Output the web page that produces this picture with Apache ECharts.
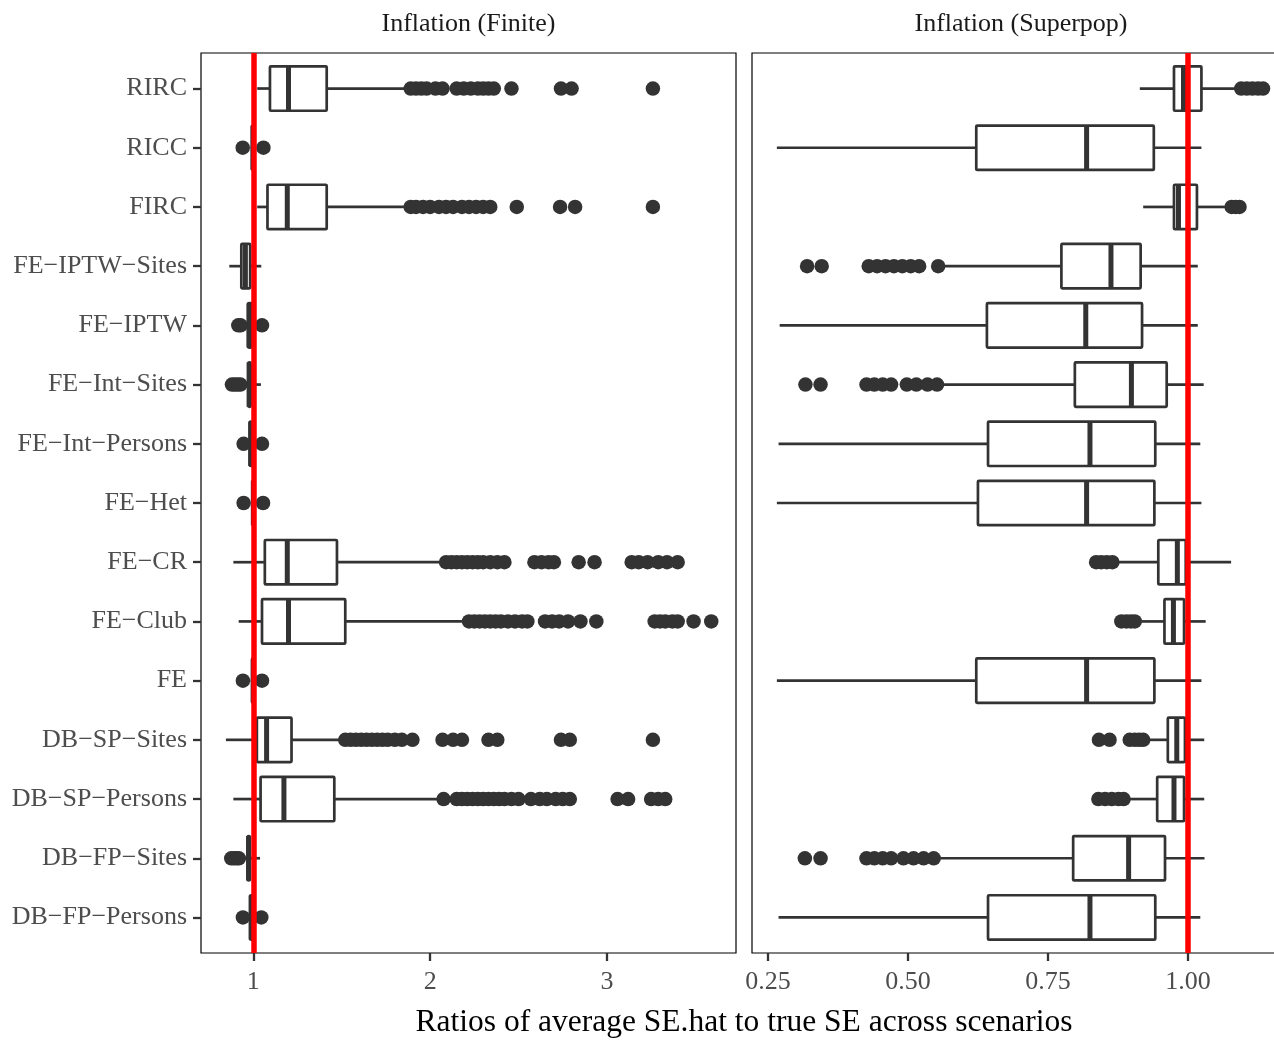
<!DOCTYPE html>
<html><head><meta charset="utf-8">
<script src="https://cdn.jsdelivr.net/npm/echarts@6.0.0/dist/echarts.min.js"></script>
<style>html,body{margin:0;padding:0;background:#fff}#c{width:1274px;height:1040px}</style>
</head><body><div id="c"></div>
<script>
// Categories, bottom to top
const categories = ['DB−FP−Persons','DB−FP−Sites','DB−SP−Persons','DB−SP−Sites','FE','FE−Club','FE−CR','FE−Het','FE−Int−Persons','FE−Int−Sites','FE−IPTW','FE−IPTW−Sites','FIRC','RICC','RIRC'];
const panelTitles = ['Inflation (Finite)', 'Inflation (Superpop)'];
const xAxisTitle = 'Ratios of average SE.hat to true SE across scenarios';
const finiteTicks = [1, 2, 3];
const superTicks = [0.25, 0.50, 0.75, 1.00];
const referenceValue = 1;

// Finite panel box statistics
const finiteLow  = [0.975, 0.935, 0.887, 0.845, 0.985, 0.917, 0.887, 0.990, 0.975, 0.962, 0.965, 0.864, 1.022, 0.985, 1.022];
const finiteQ1   = [0.982, 0.968, 1.041, 1.020, 0.993, 1.049, 1.065, 0.995, 0.980, 0.972, 0.970, 0.932, 1.080, 0.993, 1.094];
const finiteMed  = [0.988, 0.973, 1.173, 1.075, 1.000, 1.199, 1.192, 1.000, 0.985, 0.976, 0.976, 0.955, 1.192, 0.998, 1.199];
const finiteQ3   = [0.995, 0.980, 1.458, 1.216, 1.006, 1.520, 1.473, 1.005, 0.992, 0.985, 0.990, 0.982, 1.415, 1.004, 1.415];
const finiteHigh = [1.020, 1.038, 2.047, 1.486, 1.020, 2.180, 2.056, 1.010, 1.010, 1.043, 1.000, 1.045, 1.860, 1.015, 1.860];
const finiteOutliers = [
  [0.941, 1.045],
  [0.875, 0.890, 0.905, 0.918],
  [2.076, 2.15, 2.18, 2.21, 2.24, 2.27, 2.30, 2.33, 2.36, 2.39, 2.42, 2.46, 2.50, 2.57, 2.62, 2.66, 2.71, 2.75, 2.79, 3.06, 3.12, 3.25, 3.29, 3.33],
  [1.52, 1.55, 1.58, 1.61, 1.64, 1.67, 1.70, 1.73, 1.76, 1.80, 1.84, 1.90, 2.07, 2.13, 2.18, 2.33, 2.38, 2.74, 2.79, 3.26],
  [0.941, 1.049],
  [2.22, 2.25, 2.28, 2.31, 2.34, 2.37, 2.40, 2.44, 2.48, 2.52, 2.55, 2.65, 2.69, 2.73, 2.78, 2.85, 2.94, 3.27, 3.30, 3.33, 3.37, 3.40, 3.49, 3.59],
  [2.09, 2.12, 2.15, 2.18, 2.21, 2.24, 2.27, 2.30, 2.34, 2.38, 2.42, 2.59, 2.63, 2.67, 2.70, 2.84, 2.93, 3.14, 3.18, 3.23, 3.29, 3.34, 3.40],
  [0.945, 1.055],
  [0.945, 1.049],
  [0.879, 0.895, 0.912, 0.927],
  [0.915, 0.928, 1.049],
  [],
  [1.89, 1.92, 1.96, 2.00, 2.05, 2.09, 2.13, 2.18, 2.22, 2.26, 2.30, 2.34, 2.49, 2.735, 2.82, 3.26],
  [0.940, 1.057],
  [1.89, 1.92, 1.95, 1.98, 2.03, 2.07, 2.15, 2.19, 2.23, 2.27, 2.30, 2.33, 2.36, 2.46, 2.74, 2.80, 3.26]
];

// Superpop panel box statistics
const superLow  = [0.269, 0.558, 0.890, 0.929, 0.266, 0.917, 0.875, 0.266, 0.269, 0.564, 0.271, 0.564, 0.920, 0.266, 0.914];
const superQ1   = [0.643, 0.795, 0.945, 0.964, 0.622, 0.958, 0.947, 0.625, 0.643, 0.798, 0.641, 0.774, 0.975, 0.622, 0.975];
const superMed  = [0.825, 0.894, 0.975, 0.980, 0.819, 0.974, 0.981, 0.819, 0.825, 0.899, 0.8175, 0.8625, 0.983, 0.819, 0.992];
const superQ3   = [0.9416, 0.959, 0.993, 0.9946, 0.940, 0.993, 0.996, 0.940, 0.9416, 0.962, 0.918, 0.9155, 1.016, 0.939, 1.024];
const superHigh = [1.022, 1.0295, 1.029, 1.029, 1.024, 1.0316, 1.077, 1.024, 1.022, 1.028, 1.0175, 1.0175, 1.0675, 1.024, 1.0855];
const superOutliers = [
  [],
  [0.316, 0.344, 0.426, 0.440, 0.455, 0.470, 0.492, 0.510, 0.528, 0.546],
  [0.840, 0.852, 0.864, 0.876, 0.885],
  [0.841, 0.860, 0.896, 0.905, 0.913, 0.920],
  [],
  [0.881, 0.890, 0.898, 0.905],
  [0.836, 0.845, 0.855, 0.865],
  [],
  [],
  [0.317, 0.344, 0.426, 0.440, 0.455, 0.470, 0.498, 0.515, 0.535, 0.552],
  [],
  [0.320, 0.346, 0.430, 0.445, 0.460, 0.475, 0.490, 0.505, 0.520, 0.554],
  [1.078, 1.085, 1.092],
  [],
  [1.095, 1.105, 1.115, 1.125, 1.134]
];

const FONT = 'Liberation Serif';
const INK = '#333333';

function boxData(low, q1, med, q3, high) {
  return categories.map((c, i) => [i + 1, low[i], q1[i], med[i], q3[i], high[i]]);
}
function outlierData(outs) {
  const d = [];
  outs.forEach((arr, i) => arr.forEach(v => d.push([v, i + 1])));
  return d;
}
function renderBox(params, api) {
  const y = api.value(0);
  const pLow = api.coord([api.value(1), y]);
  const pQ1 = api.coord([api.value(2), y]);
  const pMed = api.coord([api.value(3), y]);
  const pQ3 = api.coord([api.value(4), y]);
  const pHigh = api.coord([api.value(5), y]);
  const h = api.size([0, 0.75])[1];
  const cy = pMed[1];
  const lw = 2.7;
  return {
    type: 'group',
    children: [
      {type: 'line', shape: {x1: pLow[0], y1: cy, x2: pQ1[0], y2: cy}, style: {stroke: INK, lineWidth: lw}},
      {type: 'line', shape: {x1: pQ3[0], y1: cy, x2: pHigh[0], y2: cy}, style: {stroke: INK, lineWidth: lw}},
      {type: 'rect', shape: {x: pQ1[0], y: cy - h / 2, width: pQ3[0] - pQ1[0], height: h, r: 1}, style: {fill: '#ffffff', stroke: INK, lineWidth: lw}},
      {type: 'line', shape: {x1: pMed[0], y1: cy - h / 2, x2: pMed[0], y2: cy + h / 2}, style: {stroke: INK, lineWidth: 5}}
    ]
  };
}

const yTickValues = categories.map((c, i) => i + 1);
const labelStyle = {color: '#4d4d4d', fontSize: 26, fontFamily: FONT};

const grids = [
  {left: 201, top: 53, width: 535, height: 900, show: true, borderColor: '#000', borderWidth: 1.2, backgroundColor: '#fff', containLabel: false, outerBoundsMode: 'none'},
  {left: 752, top: 53, width: 539, height: 900, show: true, borderColor: '#000', borderWidth: 1.2, backgroundColor: '#fff', containLabel: false, outerBoundsMode: 'none'}
];

function xAxisDef(gi, min, max, ticks, fmt) {
  return {
    type: 'value', gridIndex: gi, min: min, max: max, position: 'bottom',
    axisLine: {show: false},
    splitLine: {show: false},
    axisTick: {show: true, length: 8, customValues: ticks, lineStyle: {color: INK, width: 2.3}},
    axisLabel: Object.assign({customValues: ticks, margin: 16, formatter: fmt}, labelStyle)
  };
}

const option = {
  backgroundColor: '#ffffff',
  animation: false,
  grid: grids,
  xAxis: [
    xAxisDef(0, 0.704, 3.730, finiteTicks, v => String(Math.round(v))),
    xAxisDef(1, 0.2216, 0.2216 + 539 / 560.1, superTicks, v => Number(v).toFixed(2))
  ],
  yAxis: [
    {
      type: 'value', gridIndex: 0, min: 0.4, max: 15.6, position: 'left',
      axisLine: {show: false}, splitLine: {show: false},
      axisTick: {show: true, length: 8, customValues: yTickValues, lineStyle: {color: INK, width: 2.3}},
      axisLabel: Object.assign({customValues: yTickValues, margin: 14, formatter: v => categories[Math.round(v) - 1]}, labelStyle)
    },
    {
      type: 'value', gridIndex: 1, min: 0.4, max: 15.6, position: 'left',
      axisLine: {show: false}, splitLine: {show: false},
      axisTick: {show: false}, axisLabel: {show: false}
    }
  ],
  graphic: [
    {type: 'text', x: 468.5, y: 24, style: {text: panelTitles[0], fontSize: 26, fontFamily: FONT, fill: '#1a1a1a', align: 'center', verticalAlign: 'middle', textAlign: 'center', textVerticalAlign: 'middle'}},
    {type: 'text', x: 1021, y: 24, style: {text: panelTitles[1], fontSize: 26, fontFamily: FONT, fill: '#1a1a1a', align: 'center', verticalAlign: 'middle', textAlign: 'center', textVerticalAlign: 'middle'}},
    {type: 'text', x: 744, y: 1023, style: {text: xAxisTitle, fontSize: 31.5, fontFamily: FONT, fill: '#000', align: 'center', verticalAlign: 'middle', textAlign: 'center', textVerticalAlign: 'middle'}}
  ],
  series: [
    {type: 'custom', name: 'finiteBox', xAxisIndex: 0, yAxisIndex: 0, renderItem: renderBox,
     encode: {x: [1, 2, 3, 4, 5], y: 0}, data: boxData(finiteLow, finiteQ1, finiteMed, finiteQ3, finiteHigh), z: 2},
    {type: 'custom', name: 'superBox', xAxisIndex: 1, yAxisIndex: 1, renderItem: renderBox,
     encode: {x: [1, 2, 3, 4, 5], y: 0}, data: boxData(superLow, superQ1, superMed, superQ3, superHigh), z: 2},
    {type: 'scatter', name: 'finiteOut', xAxisIndex: 0, yAxisIndex: 0, symbol: 'circle', symbolSize: 14.5,
     itemStyle: {color: INK, opacity: 1}, data: outlierData(finiteOutliers), z: 3, silent: true,
     markLine: {silent: true, symbol: 'none', z: 10, label: {show: false}, lineStyle: {color: '#ff0000', width: 5.5, type: 'solid'}, data: [{xAxis: referenceValue}]}},
    {type: 'scatter', name: 'superOut', xAxisIndex: 1, yAxisIndex: 1, symbol: 'circle', symbolSize: 14.5,
     itemStyle: {color: INK, opacity: 1}, data: outlierData(superOutliers), z: 3, silent: true,
     markLine: {silent: true, symbol: 'none', z: 10, label: {show: false}, lineStyle: {color: '#ff0000', width: 5.5, type: 'solid'}, data: [{xAxis: referenceValue}]}}
  ]
};

const chart = echarts.init(document.getElementById('c'), null, {renderer: 'canvas'});
chart.setOption(option);
</script>
</body></html>
